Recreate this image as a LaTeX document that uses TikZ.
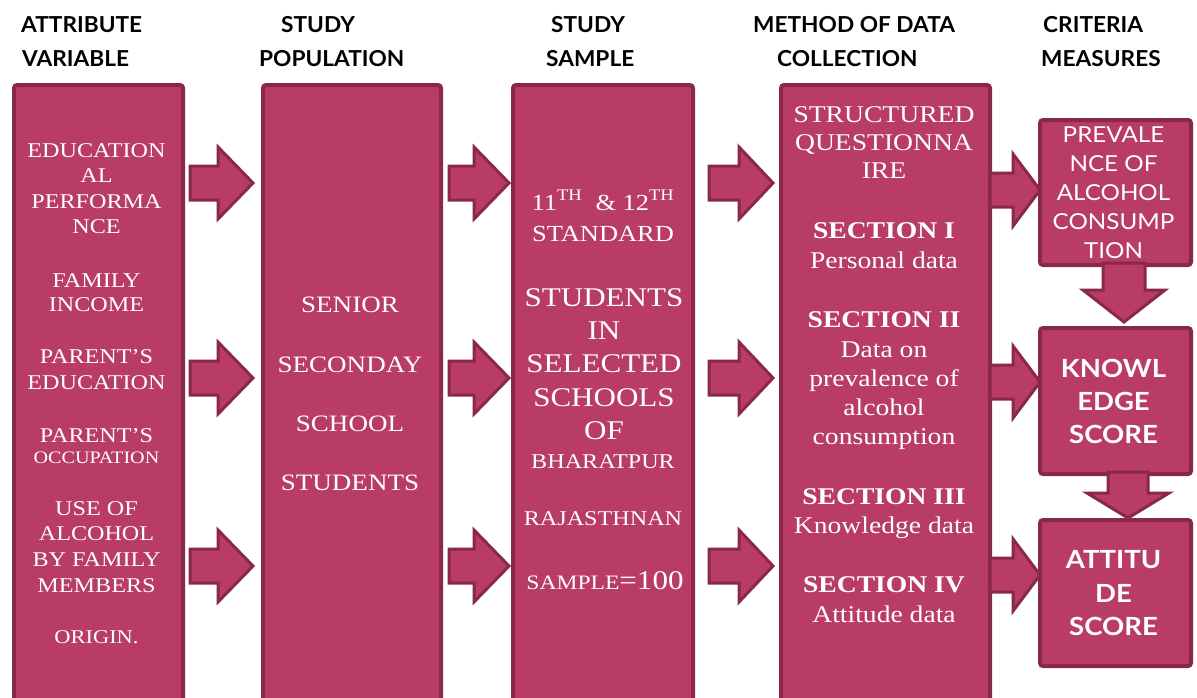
\documentclass[tikz,border=0pt]{standalone}
\usepackage{fontspec}
\setmainfont{Liberation Serif}[FakeStretch=1.15]
\newfontfamily\headfont{Lato}[FakeStretch=1.03]
\newfontfamily\boxfont{Lato}[FakeStretch=1.1]
\definecolor{cellfill}{RGB}{185,60,102}
\definecolor{celledge}{RGB}{137,40,73}
\newcommand{\fs}[1]{\fontsize{#1}{#1}\selectfont}
% right-pointing block arrow: body start, head base, tip, centre line
\newcommand{\rblock}[4]{%
  \draw[blockarrow] (#1,#4-17) -- (#2,#4-17) -- (#2,#4-36) -- (#3,#4)
    -- (#2,#4+36) -- (#2,#4+17) -- (#1,#4+17) -- cycle;}
% downward block arrow: centre x, body start, head base, tip, body half width
\newcommand{\dblock}[5]{%
  \draw[blockarrow] (#1-#5,#2) -- (#1-#5,#3) -- (#1-41,#3) -- (#1,#4)
    -- (#1+41,#3) -- (#1+#5,#3) -- (#1+#5,#2) -- cycle;}
\begin{document}
\begin{tikzpicture}[x=1pt,y=-1pt,
  cell/.style={draw=celledge, fill=cellfill, line width=4pt, rounded corners=3pt,
    inner sep=0pt, anchor=north west},
  blockarrow/.style={draw=celledge, fill=cellfill, line width=3pt, line join=miter},
  wt/.style={text=white, inner sep=0pt, anchor=base},
  hd/.style={font=\headfont\bfseries\fs{22}, inner sep=0pt, anchor=base west}]
\useasboundingbox (0,0) rectangle (1197,697);
\clip (0,0) rectangle (1197,697);
\fill[white] (0,0) rectangle (1197,697);

% column headings
\node[hd] (h1a) at (21,32) {ATTRIBUTE};
\node[hd] (h1b) at (22,66) {VARIABLE};
\node[hd] (h2a) at (281,32) {STUDY};
\node[hd] (h2b) at (259,66) {POPULATION};
\node[hd] (h3a) at (551,32) {STUDY};
\node[hd] (h3b) at (546,66) {SAMPLE};
\node[hd] (h4a) at (753,32) {METHOD OF DATA};
\node[hd] (h4b) at (777,66) {COLLECTION};
\node[hd] (h5a) at (1043,32) {CRITERIA};
\node[hd] (h5b) at (1041,66) {MEASURES};

% tall boxes
\node[cell, minimum width=169pt, minimum height=637pt] (attr) at (12,83) {};
\node[cell, minimum width=178pt, minimum height=637pt] (popu) at (261,83) {};
\node[cell, minimum width=180pt, minimum height=637pt] (samp) at (511,83) {};
\node[cell, minimum width=209pt, minimum height=637pt] (meth) at (779,83) {};

% criteria boxes
\node[cell, minimum width=151pt, minimum height=145pt] (prev) at (1038,118) {};
\node[cell, minimum width=151pt, minimum height=146pt] (know) at (1038,326) {};
\node[cell, minimum width=151pt, minimum height=146pt] (atti) at (1038,518) {};

% arrows between the columns
\foreach \y in {183,378,566} {
  \rblock{190}{218}{253}{\y}
  \rblock{449}{474}{509}{\y}
  \rblock{709}{739}{773}{\y}
}
\rblock{990}{1013}{1040}{190}
\rblock{990}{1013}{1040}{382}
\rblock{990}{1013}{1040}{575}
\dblock{1124}{263}{290}{322}{21}
\dblock{1128}{472}{493}{518}{20}

% attribute variables
\begin{scope}[every node/.style={wt, font=\fs{21}}]
\node (a1) at (96.5,157) {EDUCATION};
\node (a2) at (96.5,182) {AL};
\node (a3) at (96.5,208) {PERFORMA};
\node (a4) at (96.5,233) {NCE};
\node (a5) at (96.5,287) {FAMILY};
\node (a6) at (96.5,311) {INCOME};
\node (a7) at (96.5,363) {PARENT’S};
\node (a8) at (96.5,389) {EDUCATION};
\node (a9) at (96.5,442) {PARENT’S};
\node[font=\fs{17.5}] (a10) at (96.5,463) {OCCUPATION};
\node (a11) at (96.5,515) {USE OF};
\node (a12) at (96.5,540) {ALCOHOL};
\node (a13) at (96.5,566) {BY FAMILY};
\node (a14) at (96.5,592) {MEMBERS};
\node[font=\fs{19.5}] (a15) at (96.5,643) {ORIGIN.};
\end{scope}

% study population
\begin{scope}[every node/.style={wt, font=\fs{23.5}}]
\node (p1) at (350,312) {SENIOR};
\node (p2) at (350,372) {SECONDAY};
\node (p3) at (350,431) {SCHOOL};
\node (p4) at (350,490) {STUDENTS};
\end{scope}

% study sample
\begin{scope}[every node/.style={wt, font=\fs{27}}]
\node[font=\fs{23}] (s1) at (603,210) {11\textsuperscript{TH}\ \ \& 12\textsuperscript{TH}};
\node[font=\fs{23}] (s2) at (603,241) {STANDARD};
\node (s3) at (604,306) {STUDENTS};
\node (s4) at (604,339) {IN};
\node (s5) at (604,372) {SELECTED};
\node (s6) at (604,406) {SCHOOLS};
\node (s7) at (604,439) {OF};
\node[font=\fs{21}] (s8) at (603,468) {BHARATPUR};
\node[font=\fs{21}] (s9) at (603,525) {RAJASTHNAN};
\node (s10) at (605,589) {{\fs{20.5}SAMPLE}=100};
\end{scope}

% data collection
\begin{scope}[every node/.style={wt, font=\fs{24}}]
\node (m1) at (884,122) {STRUCTURED};
\node (m2) at (884,150) {QUESTIONNA};
\node (m3) at (884,178) {IRE};
\node[font=\fs{24}\bfseries] (m4) at (884,238) {SECTION I};
\node (m5) at (884,268) {Personal data};
\node[font=\fs{24}\bfseries] (m6) at (884,327) {SECTION II};
\node (m7) at (884,357) {Data on};
\node (m8) at (884,386) {prevalence of};
\node (m9) at (884,415) {alcohol};
\node (m10) at (884,444) {consumption};
\node[font=\fs{24}\bfseries] (m11) at (884,504) {SECTION III};
\node (m12) at (884,533) {Knowledge data};
\node[font=\fs{24}\bfseries] (m13) at (884,592) {SECTION IV};
\node (m14) at (884,622) {Attitude data};
\end{scope}

% criteria measures
\begin{scope}[every node/.style={wt, font=\boxfont\fs{22}}]
\node (c1) at (1113.5,142) {PREVALE};
\node (c2) at (1113.5,171) {NCE OF};
\node (c3) at (1113.5,200) {ALCOHOL};
\node (c4) at (1113.5,229) {CONSUMP};
\node (c5) at (1113.5,258) {TION};
\end{scope}
\begin{scope}[every node/.style={wt, font=\boxfont\bfseries\fs{25}}]
\node (k1) at (1113.5,377) {KNOWL};
\node (k2) at (1113.5,410) {EDGE};
\node (k3) at (1113.5,443) {SCORE};
\node (t1) at (1113.5,568) {ATTITU};
\node (t2) at (1113.5,602) {DE};
\node (t3) at (1113.5,635) {SCORE};
\end{scope}
\end{tikzpicture}
\end{document}
